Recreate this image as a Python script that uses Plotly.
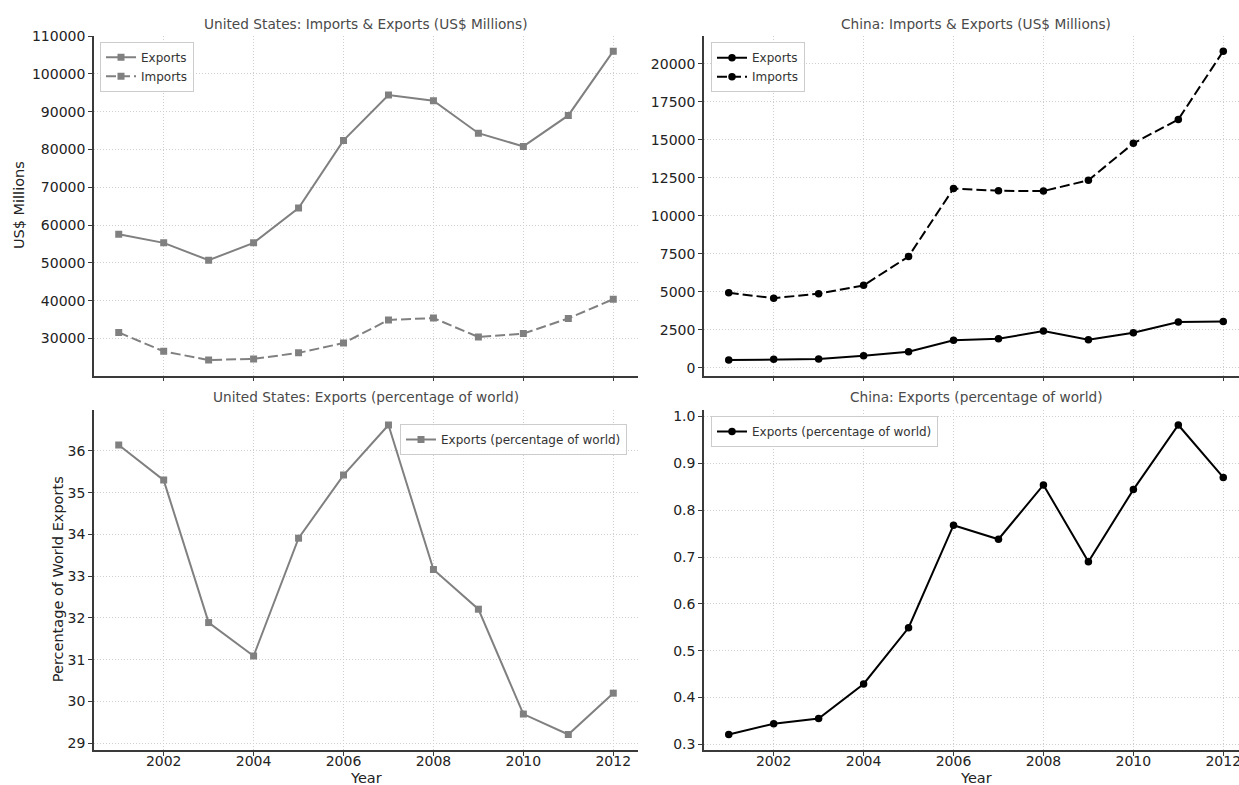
import plotly.graph_objects as go

# ---- data -------------------------------------------------------------
years = [2001, 2002, 2003, 2004, 2005, 2006, 2007, 2008, 2009, 2010, 2011, 2012]

us_exports = [57600, 55300, 50700, 55300, 64500, 82400, 94400, 92900, 84300, 80800, 89000, 106000]
us_imports = [31600, 26600, 24300, 24600, 26200, 28800, 34900, 35400, 30400, 31300, 35300, 40400]
us_export_share = [36.14, 35.30, 31.89, 31.09, 33.91, 35.42, 36.62, 33.16, 32.21, 29.70, 29.21, 30.20]

cn_exports = [520, 570, 590, 800, 1070, 1820, 1920, 2430, 1860, 2320, 3020, 3060]
cn_imports = [4940, 4590, 4880, 5430, 7330, 11800, 11650, 11630, 12340, 14770, 16340, 20830]
cn_export_share = [0.321, 0.344, 0.355, 0.429, 0.549, 0.768, 0.738, 0.854, 0.690, 0.844, 0.982, 0.870]

year_ticks = [2002, 2004, 2006, 2008, 2010, 2012]
year_tick_labels = ["2002", "2004", "2006", "2008", "2010", "2012"]

titles = [
    "United States: Imports & Exports (US$ Millions)",
    "China: Imports & Exports (US$ Millions)",
    "United States: Exports (percentage of world)",
    "China: Exports (percentage of world)",
]

# ---- page geometry (pixels) -------------------------------------------
W, H = 1239, 785
FONT = "DejaVu Sans"
GRAY = "#808080"
BLACK = "#000000"
SPINE = "#3a3a3a"
GRID = "#cfcfcf"

LEFT_X = (94, 638)
RIGHT_X0 = 704
RIGHT_FULL_W = LEFT_X[1] - LEFT_X[0]
TOP_Y = (35.7, 375.5)
BOT_Y = (409.5, 750.0)


def px_x(a, b):
    return [a / W, min(b / W, 1.0)]


def px_y(top, bottom):
    return [1 - bottom / H, 1 - top / H]


def padded(values, frac=0.05):
    lo, hi = min(values), max(values)
    pad = (hi - lo) * frac
    return [lo - pad, hi + pad]


x_full = padded(years)
x_span = x_full[1] - x_full[0]
# right-hand column runs past the page edge; show only the part that fits
x_right = [x_full[0], x_full[0] + (W - RIGHT_X0) / RIGHT_FULL_W * x_span]

fig = go.Figure()

us_line = dict(color=GRAY, width=2)
cn_line = dict(color=BLACK, width=2)
DASH = "10px,4px"

fig.add_trace(go.Scatter(x=years, y=us_exports, name="Exports", mode="lines+markers",
                         line=us_line, marker=dict(symbol="square", size=7, color=GRAY),
                         xaxis="x", yaxis="y", legend="legend"))
fig.add_trace(go.Scatter(x=years, y=us_imports, name="Imports", mode="lines+markers",
                         line=dict(us_line, dash=DASH),
                         marker=dict(symbol="square", size=7, color=GRAY),
                         xaxis="x", yaxis="y", legend="legend"))
fig.add_trace(go.Scatter(x=years, y=cn_exports, name="Exports", mode="lines+markers",
                         line=cn_line, marker=dict(symbol="circle", size=7.5, color=BLACK),
                         xaxis="x2", yaxis="y2", legend="legend2"))
fig.add_trace(go.Scatter(x=years, y=cn_imports, name="Imports", mode="lines+markers",
                         line=dict(cn_line, dash=DASH),
                         marker=dict(symbol="circle", size=7.5, color=BLACK),
                         xaxis="x2", yaxis="y2", legend="legend2"))
fig.add_trace(go.Scatter(x=years, y=us_export_share, name="Exports (percentage of world)",
                         mode="lines+markers", line=us_line,
                         marker=dict(symbol="square", size=7, color=GRAY),
                         xaxis="x3", yaxis="y3", legend="legend3"))
fig.add_trace(go.Scatter(x=years, y=cn_export_share, name="Exports (percentage of world)",
                         mode="lines+markers", line=cn_line,
                         marker=dict(symbol="circle", size=7.5, color=BLACK),
                         xaxis="x4", yaxis="y4", legend="legend4"))

tick_font = dict(family=FONT, size=14, color="#222222")

common = dict(
    showline=True, linecolor=SPINE, linewidth=1.6, mirror=False,
    ticks="outside", ticklen=4, tickwidth=1, tickcolor=SPINE,
    showgrid=True, gridcolor=GRID, gridwidth=1, griddash="1px,2px",
    zeroline=False, tickfont=tick_font, automargin=False,
    ticklabeloverflow="allow",
)


def xaxis(domain, rng, anchor, labels):
    return dict(common, domain=domain, range=rng, anchor=anchor,
                tickvals=year_ticks, ticktext=year_tick_labels,
                showticklabels=labels, ticklabelstandoff=-7)


def yaxis(domain, rng, anchor, **kw):
    return dict(common, domain=domain, range=rng, anchor=anchor, **kw)


fig.update_layout(
    xaxis=xaxis(px_x(*LEFT_X), x_full, "y", False),
    yaxis=yaxis(px_y(*TOP_Y), padded(us_exports + us_imports), "x",
                dtick=10000, tickformat="d"),
    xaxis2=xaxis(px_x(RIGHT_X0, W), x_right, "y2", False),
    yaxis2=yaxis(px_y(*TOP_Y), padded(cn_exports + cn_imports), "x2",
                 dtick=2500, tickformat="d"),
    xaxis3=xaxis(px_x(*LEFT_X), x_full, "y3", True),
    yaxis3=yaxis(px_y(*BOT_Y), padded(us_export_share), "x3", dtick=1, tickformat="d"),
    xaxis4=xaxis(px_x(RIGHT_X0, W), x_right, "y4", True),
    yaxis4=yaxis(px_y(*BOT_Y), padded(cn_export_share), "x4", dtick=0.1, tickformat=".1f"),
)

legend_style = dict(
    bgcolor="rgba(255,255,255,0.85)", bordercolor="#cccccc", borderwidth=1,
    font=dict(family=FONT, size=12, color="#333333"),
    xanchor="left", yanchor="top", tracegroupgap=0,
)
fig.update_layout(
    legend=dict(legend_style, x=100 / W, y=1 - 41.7 / H),
    legend2=dict(legend_style, x=711 / W, y=1 - 42.3 / H),
    legend3=dict(legend_style, x=400 / W, y=1 - 424 / H),
    legend4=dict(legend_style, x=711 / W, y=1 - 416 / H),
)

# subplot titles, centred on each full panel
left_cx = (LEFT_X[0] + LEFT_X[1]) / 2
right_cx = RIGHT_X0 + RIGHT_FULL_W / 2
title_font = dict(family=FONT, size=13.7, color="#4a4a4a")
title_pos = [(left_cx, 24), (right_cx, 24), (left_cx, 397), (right_cx, 397)]
annotations = []
for text, (cx, cy) in zip(titles, title_pos):
    annotations.append(dict(text=text, x=cx / W, y=1 - cy / H, xref="paper", yref="paper",
                            showarrow=False, xanchor="center", yanchor="middle",
                            font=title_font))

label_font = dict(family=FONT, size=14.5, color="#222222")
annotations += [
    dict(text="US$ Millions", x=18.5 / W, y=1 - (TOP_Y[0] + TOP_Y[1]) / 2 / H, textangle=-90),
    dict(text="Percentage of World Exports", x=57.5 / W, y=1 - (BOT_Y[0] + BOT_Y[1]) / 2 / H,
         textangle=-90),
    dict(text="Year", x=left_cx / W, y=1 - 778 / H),
    dict(text="Year", x=right_cx / W, y=1 - 778 / H),
]
for a in annotations[4:]:
    a.update(xref="paper", yref="paper", showarrow=False, xanchor="center",
             yanchor="middle", font=label_font)

fig.update_layout(
    annotations=annotations,
    width=W, height=H,
    margin=dict(l=0, r=0, t=0, b=0),
    paper_bgcolor="white", plot_bgcolor="white",
    showlegend=True,
    font=dict(family=FONT),
)

fig.write_html("out.html", config={"displayModeBar": False})
